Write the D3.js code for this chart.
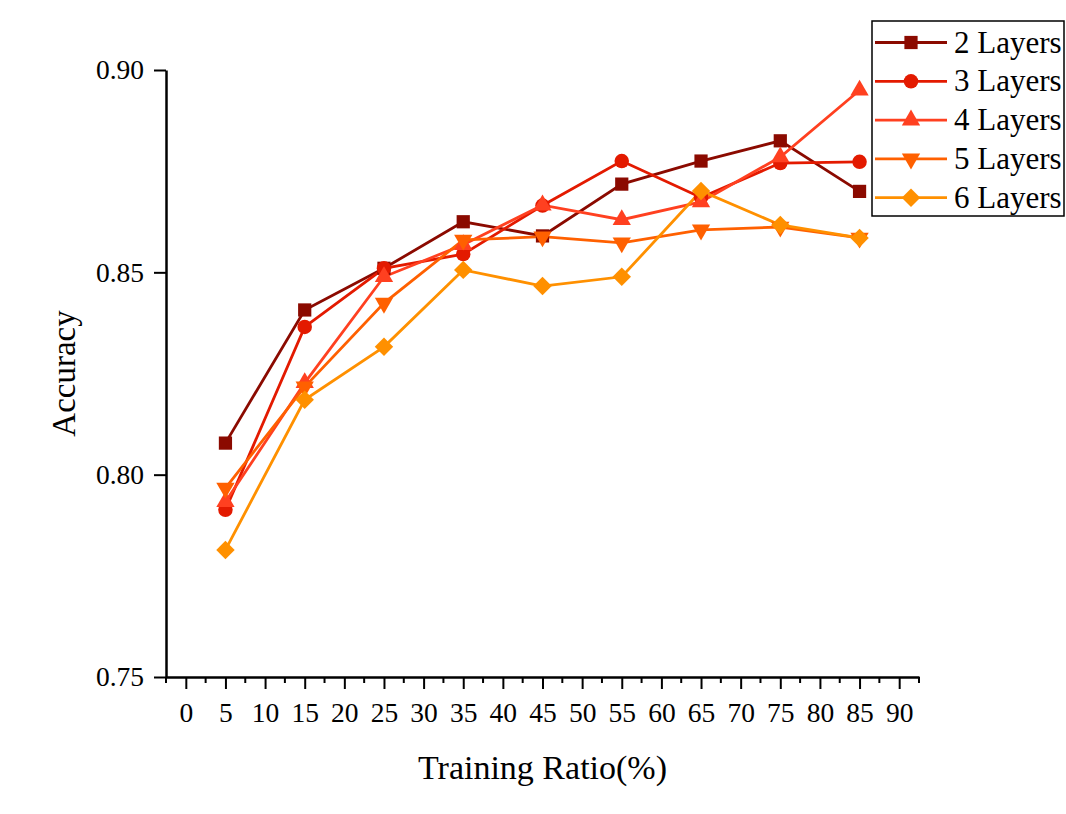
<html>
<head>
<title>Accuracy vs Training Ratio</title>
<meta charset="utf-8">
<style type="text/css">
body { margin: 0; background: #fff; }
text { font-family: "Liberation Serif", "Times New Roman", serif; fill: #000; }
</style>
</head>
<body>
<script src="https://cdn.jsdelivr.net/npm/d3@7"></script>
<script>

// data
var ratios = [5, 15, 25, 35, 45, 55, 65, 75, 85];
var seriesNames = ["2 Layers", "3 Layers", "4 Layers", "5 Layers", "6 Layers"];
var layers2 = [0.8078, 0.8407, 0.8510, 0.8625, 0.8590, 0.8718, 0.8775, 0.8825, 0.8700];
var layers3 = [0.7913, 0.8365, 0.8510, 0.8545, 0.8665, 0.8775, 0.8685, 0.8770, 0.8773];
var layers4 = [0.7933, 0.8227, 0.8489, 0.8568, 0.8666, 0.8630, 0.8674, 0.8785, 0.8950];
var layers5 = [0.7967, 0.8217, 0.8424, 0.8580, 0.8588, 0.8573, 0.8605, 0.8612, 0.8585];
var layers6 = [0.7814, 0.8185, 0.8316, 0.8506, 0.8466, 0.8489, 0.8701, 0.8617, 0.8585];
var xTicks = [0, 5, 10, 15, 20, 25, 30, 35, 40, 45, 50, 55, 60, 65, 70, 75, 80, 85, 90];
var yTicks = [0.75, 0.80, 0.85, 0.90];

var allSeries = [layers2, layers3, layers4, layers5, layers6];
var colors = ["#8b0a00", "#e31a00", "#ff4020", "#ff6000", "#ff9000"];
var shapes = [d3.symbolSquare, d3.symbolCircle, d3.symbolTriangle, d3.symbolTriangle, d3.symbolSquare];
var sizes = [175, 165, 145, 145, 170];
var rotations = [0, 0, 0, 180, 45];

// set the dimensions and margins of the graph
var margin = {top: 70, right: 147, bottom: 137, left: 166},
    width = 1066 - margin.left - margin.right,
    height = 814 - margin.top - margin.bottom;

var x = d3.scaleLinear()
    .domain([-2.5, 92.5])
    .range([0, width]);
var y = d3.scaleLinear()
    .domain([0.75, 0.90])
    .range([height, 0]);

var svg = d3.select("body").append("svg")
    .attr("width", 1066)
    .attr("height", 814)
    .append("g")
    .attr("transform", "translate(" + margin.left + "," + margin.top + ")");

// minor x ticks
var minor = d3.range(-2.5, 93, 5);
svg.append("g")
    .attr("transform", "translate(0," + height + ")")
    .selectAll("line")
    .data(minor)
    .enter().append("line")
    .attr("x1", function(d) { return x(d); })
    .attr("x2", function(d) { return x(d); })
    .attr("y1", 0)
    .attr("y2", 6)
    .attr("stroke", "#000")
    .attr("stroke-width", 2);

// x axis
var xAxis = svg.append("g")
    .attr("transform", "translate(0," + height + ")")
    .call(d3.axisBottom(x).tickValues(xTicks).tickSize(12).tickPadding(13).tickSizeOuter(0));
xAxis.select(".domain").attr("stroke-width", 2.5);
xAxis.selectAll(".tick line").attr("stroke-width", 2);
xAxis.selectAll("text").style("font-size", "27.5px").style("font-family", "Liberation Serif");

// y axis
var yAxis = svg.append("g")
    .call(d3.axisLeft(y).tickValues(yTicks).tickFormat(d3.format(".2f")).tickSize(12).tickPadding(10).tickSizeOuter(0));
yAxis.select(".domain").attr("stroke-width", 2.5);
yAxis.selectAll(".tick line").attr("stroke-width", 2);
yAxis.selectAll("text").style("font-size", "27.5px").style("font-family", "Liberation Serif");

// lines
var line = d3.line()
    .x(function(d, i) { return x(ratios[i]); })
    .y(function(d) { return y(d); });

allSeries.forEach(function(vals, k) {
  svg.append("path")
      .datum(vals)
      .attr("fill", "none")
      .attr("stroke", colors[k])
      .attr("stroke-width", 2.8)
      .attr("d", line);
});

// markers
allSeries.forEach(function(vals, k) {
  svg.selectAll(".pt" + k)
      .data(vals)
      .enter().append("path")
      .attr("class", "pt" + k)
      .attr("d", d3.symbol().type(shapes[k]).size(sizes[k]))
      .attr("transform", function(d, i) {
        return "translate(" + x(ratios[i]) + "," + y(d) + ") rotate(" + rotations[k] + ")";
      })
      .attr("fill", colors[k]);
});

// axis titles
svg.append("text")
    .attr("text-anchor", "middle")
    .attr("x", width / 2)
    .attr("y", height + 102)
    .style("font-size", "34px")
    .text("Training Ratio(%)");

svg.append("text")
    .attr("text-anchor", "middle")
    .attr("transform", "rotate(-90)")
    .attr("x", -height / 2)
    .attr("y", -91)
    .style("font-size", "33px")
    .text("Accuracy");

// legend
var legend = d3.select("svg").append("g");
legend.append("rect")
    .attr("x", 872)
    .attr("y", 21)
    .attr("width", 192)
    .attr("height", 195)
    .attr("fill", "#fff")
    .attr("stroke", "#000")
    .attr("stroke-width", 1.5);

seriesNames.forEach(function(name, k) {
  var ly = 42.5 + k * 38.8;
  legend.append("line")
      .attr("x1", 875).attr("x2", 947)
      .attr("y1", ly).attr("y2", ly)
      .attr("stroke", colors[k])
      .attr("stroke-width", 2.8);
  legend.append("path")
      .attr("d", d3.symbol().type(shapes[k]).size(sizes[k]))
      .attr("transform", "translate(911," + ly + ") rotate(" + rotations[k] + ")")
      .attr("fill", colors[k]);
  legend.append("text")
      .attr("x", 954)
      .attr("y", ly + 10)
      .style("font-size", "31px")
      .text(name);
});

</script>
</body>
</html>
